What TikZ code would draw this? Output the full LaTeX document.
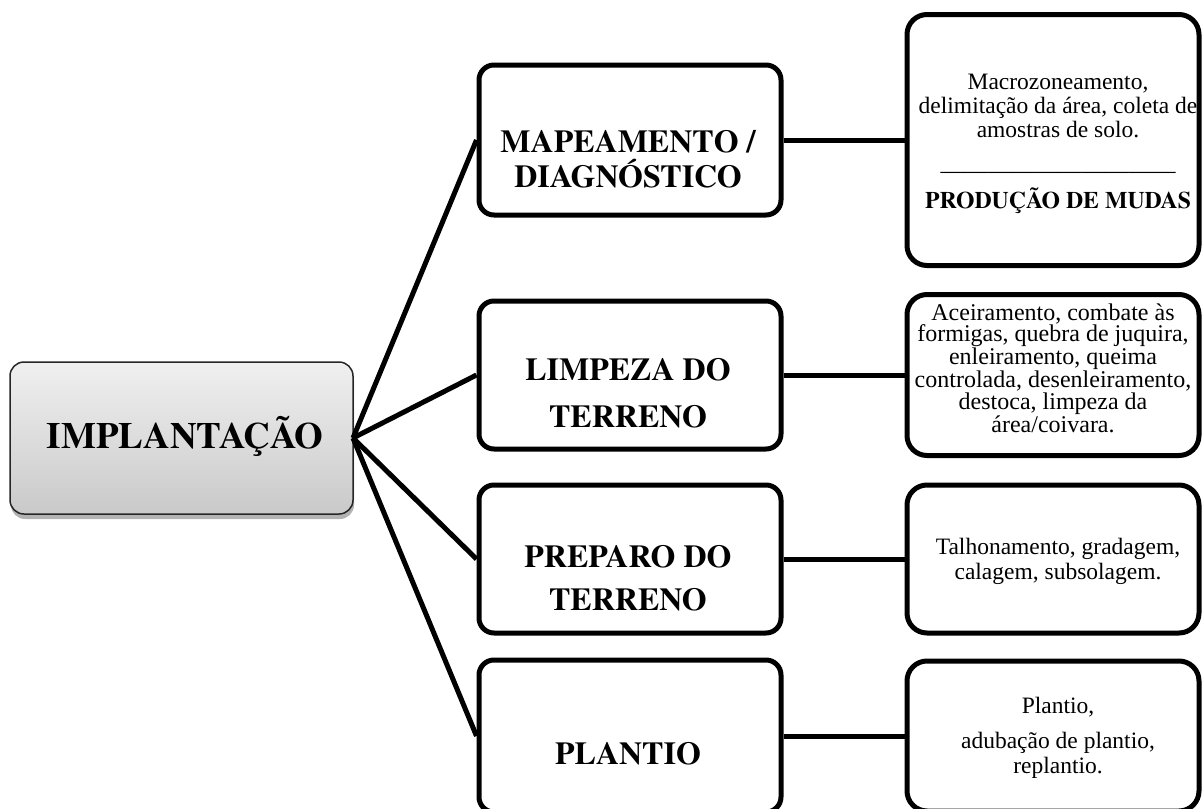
\documentclass[tikz,border=0pt]{standalone}
\usepackage{fontspec}
\setmainfont{Liberation Serif}
\newfontfamily\tnrfont{Liberation Serif}
\newfontfamily\tnrbold{texgyretermes-bold.otf}
\usetikzlibrary{shadows}
\begin{document}
\begin{tikzpicture}[x=1pt,y=-1pt,
  mainbox/.style={rounded corners=14pt, draw=black!85, line width=1.5pt,
    top color=gray!12, bottom color=gray!42, minimum width=343pt, minimum height=152pt,
    inner sep=0pt, drop shadow={shadow xshift=1pt, shadow yshift=-5pt, fill=black, opacity=0.3}},
  midbox/.style={draw, line width=5pt, rounded corners=15pt, fill=white,
    minimum width=302pt, minimum height=#1, inner sep=0pt},
  rightbox/.style={draw, line width=5pt, rounded corners=20pt, fill=white,
    minimum width=292pt, minimum height=#1, inner sep=0pt},
  maintxt/.style={font=\tnrbold\fontsize{37}{40}\selectfont, inner sep=0pt, anchor=base},
  midtxt/.style={font=\tnrbold\fontsize{32}{35}\selectfont, align=center, inner sep=0pt, anchor=base},
  righttxt/.style={font=\tnrfont\fontsize{23.5}{24}\selectfont, align=center, inner sep=0pt, anchor=base},
  link/.style={line width=5pt}
]
\useasboundingbox (0,0) rectangle (1203,809);

% central box
\node[mainbox] (impl) at (181.5,438) {};
\node[maintxt] (implt) at (185,448) {IMPLANTAÇÃO};
\coordinate (o) at (353,438);

% middle boxes
\node[midbox=150pt] (map) at (630,140) {};
\node[midtxt] (mapt) at (628,187) {MAPEAMENTO /\\DIAGNÓSTICO};
\node[midbox=148pt] (lim) at (630,375) {};
\node[midtxt] (limt) at (628,427) {LIMPEZA DO\\[12pt]TERRENO};
\node[midbox=148pt] (pre) at (630,559) {};
\node[midtxt] (pret) at (628,610) {PREPARO DO\\[8pt]TERRENO};
\node[midbox=152pt] (pla) at (630,736) {};
\node[midtxt] (plat) at (628,764) {PLANTIO};

% right boxes
\node[rightbox=251pt] (r1) at (1053,140) {};
\node[righttxt] (r1t) at (1058,208) {Macrozoneamento,\\delimitação da área, coleta de\\amostras de solo.\\[9pt]\_\_\_\_\_\_\_\_\_\_\_\_\_\_\_\_\_\_\_\_\\[14pt]{\tnrbold\fontsize{23.8}{24}\selectfont PRODUÇÃO DE MUDAS}};
\node[rightbox=161pt] (r2) at (1053,375) {};
\node[righttxt, font=\tnrfont\fontsize{24}{21.7}\selectfont] (r2t) at (1053,432) {Aceiramento, combate às\\formigas, quebra de juquira,\\enleiramento, queima\\controlada, desenleiramento,\\destoca, limpeza da\\área/coivara.};
\node[rightbox=148pt] (r3) at (1053,559) {};
\node[righttxt, font=\tnrfont\fontsize{23.5}{25}\selectfont] (r3t) at (1058,579) {Talhonamento, gradagem,\\calagem, subsolagem.};
\node[rightbox=150pt] (r4) at (1053,736) {};
\node[righttxt, font=\tnrfont\fontsize{23.5}{25}\selectfont] (r4t) at (1058,773) {Plantio,\\[10pt]adubação de plantio,\\replantio.};

% connectors
\draw[link] (o) -- (map.west);
\draw[link] (o) -- (lim.west);
\draw[link] (o) -- (pre.west);
\draw[link] (o) -- (pla.west);
\draw[link] (map.east) -- (r1.west);
\draw[link] (lim.east) -- (r2.west);
\draw[link] (pre.east) -- (r3.west);
\draw[link] (pla.east) -- (r4.west);
\end{tikzpicture}
\end{document}
